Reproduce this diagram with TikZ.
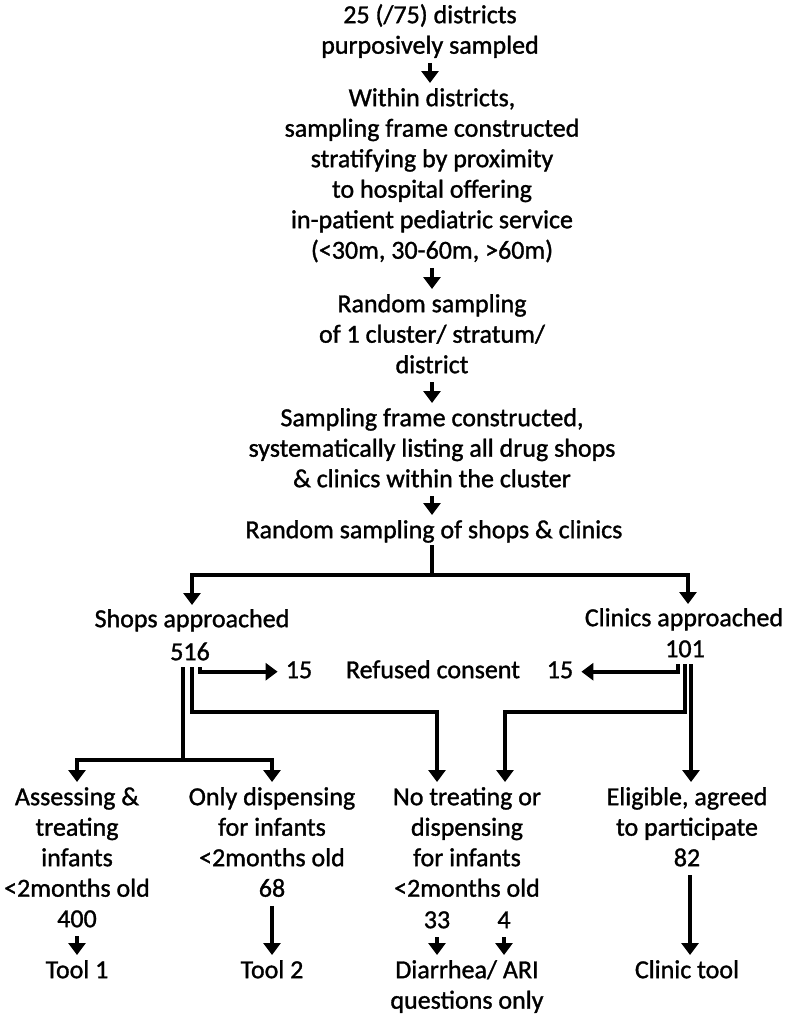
\documentclass[tikz,border=0pt]{standalone}
\usepackage{fontspec}
\setmainfont{Carlito}[FakeBold=1.2]
\usetikzlibrary{arrows.meta,calc}
\newcommand\sx{\rule[-7pt]{0pt}{27pt}}
\begin{document}
\begin{tikzpicture}[x=1pt,y=-1pt,
  txt/.style={align=center,inner sep=0pt,anchor=north,font=\fontsize{26}{30.5}\selectfont},
  ln/.style={line width=3.8pt},
  arr/.style={ln,-{Triangle[width=17pt,length=12pt]},shorten >=2pt},
  arrs/.style={arr,shorten <=2pt,shorten >=3pt},
  side/.style={arr,shorten >=8pt}]
\useasboundingbox (0,0) rectangle (787,1018);
% top chain
\node[txt] (b1) at (430,3) {\sx 25 (/75) districts\\purposively sampled\sx};
\node[txt] (b2) at (432,86) {\sx Within districts,\\sampling frame constructed\\stratifying by proximity\\to hospital offering\\in-patient pediatric service\\(<30m, 30-60m, >60m)\sx};
\node[txt] (b3) at (432,292) {\sx Random sampling\\of 1 cluster/ stratum/\\district\sx};
\node[txt] (b4) at (432,406) {\sx Sampling frame constructed,\\systematically listing all drug shops\\\& clinics within the cluster\sx};
\node[txt] (b5) at (434,518) {\sx Random sampling of shops \& clinics\sx};
\draw[arrs] (b1.south) -- (b1.south |- b2.north);
\draw[arrs] (b2.south) -- (b3.north);
\draw[arrs] (b3.south) -- (b4.north);
\draw[arrs] (b4.south) -- (b4.south |- b5.north);
% split
\node[txt] (shops) at (192,607) {\sx Shops approached\sx};
\node[txt] (n516) at (190,640) {\sx 516\sx};
\node[txt] (clinics) at (684,606) {\sx Clinics approached\sx};
\node[txt] (n101) at (685,637) {\sx 101\sx};
\coordinate (jT) at (432,575);
\draw[ln] (jT |- b5.south) -- (jT);
\draw[arr] (jT) -| (shops.north);
\draw[arr] (jT) -| ($(clinics.north)+(4,0)$);
% refused
\node[txt] (r15a) at (299,658) {\sx 15\sx};
\node[txt] (refused) at (433,658) {\sx Refused consent\sx};
\node[txt] (r15b) at (560,658) {\sx 15\sx};
\draw[side] ($(n516.south)+(10,0)$) |- (r15a.west);
\draw[side] ($(n101.south)+(-7,0)$) |- (r15b.east);
% bottom categories
\node[txt] (c1) at (77,785) {\sx Assessing \&\\treating\\infants\\<2months old\\400\sx};
\node[txt] (c2) at (272,785) {\sx Only dispensing\\for infants\\<2months old\\68\sx};
\node[txt] (c3) at (467,785) {\sx No treating or\\dispensing\\for infants\\<2months old\sx};
\node[txt] (c4) at (687,785) {\sx Eligible, agreed\\to participate\\82\sx};
\node[txt] (n33) at (437,908) {\sx 33\sx};
\node[txt] (n4) at (504,908) {\sx 4\sx};
% shops branches
\coordinate (jA) at (183,760);
\coordinate (jB) at (437,712);
\coordinate (jD) at (505,712);
\draw[ln] ($(n516.south)+(-7,0)$) -- (jA);
\draw[arr,shorten >=3pt] (jA) -| (c1.north);
\draw[arr,shorten >=3pt] (jA) -| (c2.north);
\draw[arr,shorten >=3pt] ($(n516.south)+(2,0)$) |- (jB) -- (jB |- c3.north);
% clinics branches
\draw[arr,shorten >=3pt] (n101.south) |- (jD) -- (jD |- c3.north);
\coordinate (e1) at ($(n101.south)+(6,0)$);
\draw[arr,shorten >=3pt] (e1) -- (e1 |- c4.north);
% tools
\node[txt] (t1) at (77,958) {\sx Tool 1\sx};
\node[txt] (t2) at (272,958) {\sx Tool 2\sx};
\node[txt] (t3) at (467,958) {\sx Diarrhea/ ARI\\questions only\sx};
\node[txt] (t4) at (687,958) {\sx Clinic tool\sx};
\draw[arrs] (c1.south) -- (t1.north);
\draw[arrs] (c2.south) -- (t2.north);
\draw[arrs] (n33.south) -- (n33.south |- t3.north);
\draw[arrs] (n4.south) -- (n4.south |- t3.north);
\draw[arrs] ($(c4.south)+(3,0)$) -- ($(t4.north)+(3,0)$);
\end{tikzpicture}
\end{document}
